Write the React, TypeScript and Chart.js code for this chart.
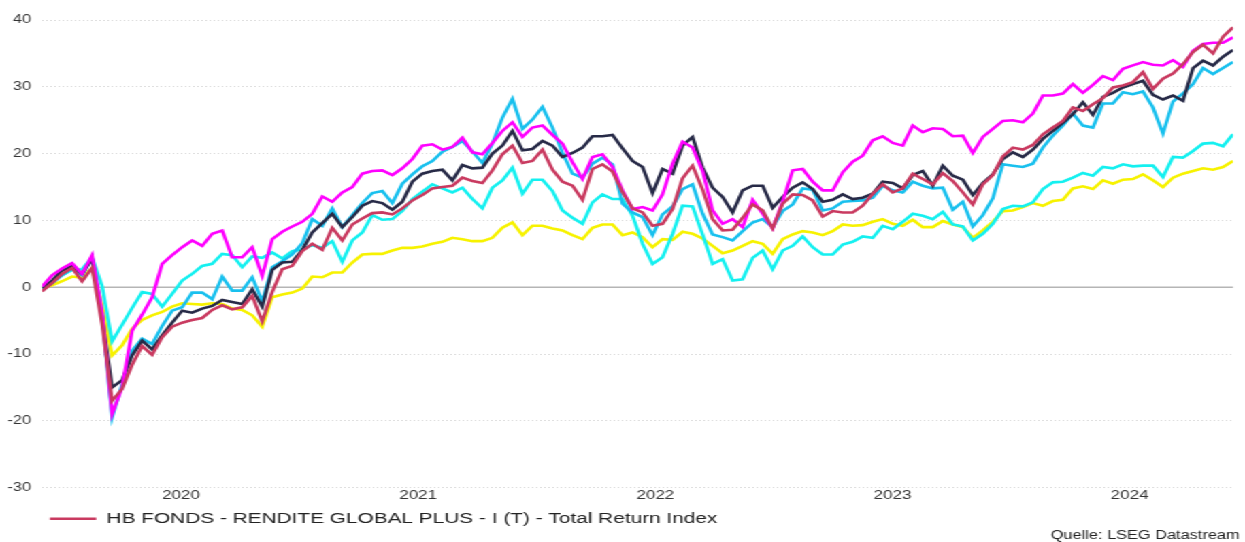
import { useEffect, useRef } from 'react';
import { Chart, registerables } from 'chart.js';

Chart.register(...registerables);

// ---- sampling of the time axis (about every 15 days, starting early Dec 2019)
const START_YEAR = 2019.914;
const STEP_YEARS = 0.0422;

// ---- tick labels
const yearLabels = ['2020', '2021', '2022', '2023', '2024'];
const yTickValues = [-30, -20, -10, 0, 10, 20, 30, 40];

const legendText = 'HB FONDS - RENDITE GLOBAL PLUS - I (T) - Total Return Index';
const sourceText = 'Quelle: LSEG Datastream';

// ---- series (performance in %)
const hbFonds = [
  -0.6, 0.6, 2.0, 2.9, 0.9, 2.9, -5.5, -17, -15.2, -11.6,
  -8.8, -10.1, -7.5, -5.9, -5.3, -4.9, -4.6, -3.4, -2.7, -3.3,
  -3.0, -1.3, -5.1, -0.7, 2.7, 3.2, 5.4, 6.5, 5.6, 8.9,
  7.0, 9.4, 10.3, 11.1, 11.2, 10.9, 11.8, 13.0, 13.8, 14.8,
  15.0, 15.2, 16.4, 15.9, 15.6, 17.5, 19.9, 21.2, 18.6, 18.9,
  20.6, 17.6, 15.8, 15.2, 13.1, 17.7, 18.4, 17.3, 14.2, 11.8,
  11.2, 9.2, 9.5, 11.7, 16.3, 18.2, 14.6, 10.2, 8.5, 8.6,
  10.4, 12.4, 11.5, 8.8, 12.5, 13.9, 13.8, 13.0, 10.6, 11.4,
  11.2, 11.2, 12.2, 14.0, 15.4, 14.2, 14.8, 17.0, 16.2, 15.4,
  17.1, 15.9, 14.2, 12.4, 15.4, 16.8, 19.6, 20.9, 20.6, 21.3,
  22.9, 23.9, 24.9, 26.9, 26.4, 27.4, 28.3, 29.9, 30.2, 30.7,
  32.2, 29.7, 31.2, 32.0, 33.4, 35.2, 36.3, 35.0, 37.5, 38.9,
];

const magentaSeries = [
  0.1, 1.8, 2.8, 3.6, 2.0, 4.8, -3.8, -19, -15, -6.5,
  -4.1, -1.5, 3.5, 4.8, 6, 7, 6.2, 8, 8.5, 4.5,
  4.5, 6.0, 1.7, 7.2, 8.3, 9.1, 9.8, 11, 13.6, 12.8,
  14.2, 15, 17, 17.4, 17.5, 16.8, 17.8, 19.2, 21.2, 21.4,
  20.6, 21, 22.4, 20.2, 19.9, 21.6, 23.4, 24.7, 22.5, 23.9,
  24.2, 22.8, 21.5, 18.7, 16.2, 19.5, 19.9, 18.0, 14.5, 11.7,
  12.0, 11.5, 13.9, 18.5, 21.8, 20.9, 17.4, 11.5, 9.5, 10.2,
  9, 13.1, 11, 8.8, 12.8, 17.5, 17.7, 15.8, 14.5, 14.5,
  17.2, 18.8, 19.7, 22.0, 22.6, 21.6, 21.2, 24.2, 23.2, 23.8,
  23.7, 22.6, 22.7, 20.1, 22.5, 23.7, 24.9, 25.0, 24.7, 26,
  28.7, 28.7, 29.0, 30.4, 29.1, 30.3, 31.6, 31.0, 32.7, 33.2,
  33.7, 33.3, 33.2, 34.0, 33.0, 35.4, 36.4, 36.6, 36.6, 37.4,
];

const navySeries = [
  -0.1, 1.0, 2.5, 3.2, 2.0, 4.3, -4.5, -15, -13.9, -10.2,
  -8.0, -9.3, -7.2, -5.3, -3.5, -3.8, -3.2, -2.8, -1.9, -2.2,
  -2.5, -0.3, -2.9, 2.6, 3.7, 3.8, 5.6, 8.2, 9.6, 11,
  9.0, 10.5, 12.2, 12.9, 12.6, 11.6, 12.8, 15.8, 17, 17.4,
  17.6, 16, 18.3, 17.8, 17.9, 20.0, 21.2, 23.4, 20.5, 20.7,
  21.9, 21.2, 19.5, 20.1, 20.9, 22.6, 22.6, 22.8, 20.8, 18.9,
  18, 14.1, 17.7, 17.0, 21.2, 22.5, 17.9, 14.9, 13.5, 11.2,
  14.5, 15.2, 15.2, 11.9, 13.5, 14.9, 15.7, 14.7, 12.8, 13.1,
  13.9, 13.2, 13.4, 14.0, 15.8, 15.6, 14.8, 16.8, 17.4, 15.2,
  18.2, 16.7, 16.1, 13.8, 15.6, 16.9, 19.2, 20.2, 19.5, 20.6,
  22.2, 23.4, 24.6, 25.9, 27.7, 25.8, 28.5, 29.1, 29.9, 30.4,
  30.9, 28.8, 28.1, 28.7, 27.9, 32.8, 33.9, 33.2, 34.5, 35.5,
];

const skySeries = [
  -0.1, 0.6, 1.8, 2.8, 1.8, 4.5, -4, -19.5, -14.5, -9.5,
  -7.7, -8.5, -5.8, -3.5, -3.0, -0.8, -0.8, -1.8, 1.6, -0.5,
  -0.5, 1.5, -2.1, 3.0, 3.9, 4.9, 6.6, 10.2, 9.2, 11.8,
  9.0, 10.8, 12.6, 14.1, 14.4, 12.6, 15.5, 16.9, 18.1, 18.9,
  20.3, 21.0, 21.9, 20.3, 18.6, 21.5, 25.4, 28.2, 23.7, 25.1,
  27.0, 23.9, 20.1, 17.0, 16.4, 18.5, 19.4, 18.4, 12.5, 11.2,
  10.5, 7.8, 10.9, 12.1, 14.7, 15.4, 11.0, 7.9, 7.5, 7.0,
  8.4, 9.7, 10.2, 9.0, 11.4, 12.4, 14.8, 14.6, 11.5, 11.8,
  12.8, 12.9, 13.0, 13.4, 15.2, 14.5, 14.2, 15.8, 15.2, 14.8,
  14.9, 11.6, 12.8, 9.1, 10.8, 13.3, 18.4, 18.2, 18.0, 18.5,
  20.9, 22.7, 24.2, 26.0, 24.2, 23.9, 27.5, 27.5, 29.2, 28.9,
  29.3, 26.9, 23.0, 27.8, 29.0, 30.4, 32.8, 31.9, 32.8, 33.7,
];

const cyanSeries = [
  -0.1, 0.8, 1.8, 2.6, 2.7, 4.5, 0.2, -8.1, -5.6, -3.1,
  -0.7, -1.0, -2.9, -1.0, 1.0, 2.0, 3.2, 3.5, 5.0, 4.8,
  3.0, 4.6, 4.4, 5.2, 4.3, 5.4, 5.7, 6.3, 5.9, 6.9,
  3.8, 7.0, 8.2, 10.8, 10.1, 10.2, 11.4, 13.2, 14.3, 15.4,
  14.8, 14.2, 14.9, 13.2, 11.8, 14.9, 16.0, 17.9, 14.0, 16.1,
  16.1, 14.4, 11.5, 10.4, 9.5, 12.7, 13.9, 13.2, 13.2, 10.7,
  6.5, 3.5, 4.5, 8.0, 12.2, 12.1, 7.9, 3.5, 4.2, 1.0,
  1.2, 4.4, 5.5, 2.7, 5.5, 6.2, 7.6, 6.0, 4.9, 4.9,
  6.4, 6.8, 7.6, 7.4, 9.2, 8.7, 9.8, 11.0, 10.7, 10.2,
  11.3, 9.4, 9.1, 7.0, 8.0, 9.5, 11.7, 12.2, 12.1, 12.7,
  14.7, 15.7, 15.8, 16.4, 17.1, 16.7, 18.0, 17.8, 18.4, 18.1,
  18.2, 18.2, 16.5, 19.5, 19.4, 20.4, 21.5, 21.6, 21.1, 22.9,
];

const yellowSeries = [
  -0.1, 0.3, 0.9, 1.6, 1.4, 2.9, -2.8, -10.2, -8.7, -6.2,
  -4.9, -4.2, -3.7, -2.9, -2.4, -2.5, -2.6, -2.4, -2.5, -3.2,
  -3.4, -4.2, -5.9, -1.5, -1.1, -0.8, -0.2, 1.6, 1.5, 2.2,
  2.2, 3.7, 4.9, 5.0, 5.0, 5.5, 5.9, 5.9, 6.1, 6.5,
  6.8, 7.4, 7.2, 6.9, 6.9, 7.4, 8.9, 9.7, 7.8, 9.2,
  9.2, 8.8, 8.5, 7.8, 7.2, 8.9, 9.4, 9.4, 7.8, 8.2,
  7.5, 6.0, 7.2, 7.1, 8.3, 8.0, 7.3, 6.2, 5.1, 5.5,
  6.2, 6.9, 6.5, 5.0, 7.2, 7.9, 8.4, 8.2, 7.8, 8.4,
  9.4, 9.2, 9.3, 9.8, 10.2, 9.5, 9.2, 10.1, 9.0, 9.0,
  9.9, 9.4, 9.0, 7.4, 8.5, 9.8, 11.4, 11.5, 12.0, 12.6,
  12.2, 12.9, 13.1, 14.8, 15.1, 14.7, 16.0, 15.5, 16.1, 16.2,
  16.9, 16.0, 15.0, 16.4, 17.0, 17.4, 17.8, 17.6, 18.0, 18.9,
];

const FONT = "'Liberation Sans', Arial, Helvetica, sans-serif";
const W = 915;
const H = 542;
const STRETCH_X = 1245 / W;

export default function App() {
  const canvasRef = useRef<HTMLCanvasElement | null>(null);

  useEffect(() => {
    document.body.style.margin = '0';
    const canvas = canvasRef.current;
    if (!canvas) return;

    const xs = hbFonds.map((_, i) => START_YEAR + i * STEP_YEARS);
    const mk = (label: string, data: number[], color: string) => ({
      label,
      data: data.map((v, i) => ({ x: xs[i], y: v })),
      borderColor: color,
      backgroundColor: color,
      borderWidth: 2.6,
      pointRadius: 0,
      pointHoverRadius: 0,
      tension: 0,
      fill: false,
    });

    const zeroLine = {
      id: 'zeroLine',
      beforeDatasetsDraw(chart: any) {
        const { ctx, chartArea } = chart;
        const y = chart.scales.y.getPixelForValue(0);
        ctx.save();
        ctx.strokeStyle = '#b5b5b5';
        ctx.lineWidth = 1.5;
        ctx.beginPath();
        ctx.moveTo(chartArea.left, y);
        ctx.lineTo(chartArea.right, y);
        ctx.stroke();
        ctx.restore();
      },
    };

    const legendShift = {
      id: 'legendShift',
      afterLayout(chart: any) {
        if (chart.legend) chart.legend.left += 22.3;
      },
    };

    const sourceNote = {
      id: 'sourceNote',
      afterDraw(chart: any) {
        const { ctx } = chart;
        ctx.save();
        ctx.font = `12px ${FONT}`;
        ctx.fillStyle = '#222';
        ctx.textAlign = 'right';
        ctx.textBaseline = 'middle';
        ctx.fillText(sourceText, chart.width - 4, 536);
        ctx.restore();
      },
    };

    const chart = new Chart(canvas, {
      type: 'line',
      data: {
        datasets: [
          mk(legendText, hbFonds, '#c93a60'),
          mk('Vergleich 1', magentaSeries, '#ff00ff'),
          mk('Vergleich 2', navySeries, '#272a47'),
          mk('Vergleich 3', skySeries, '#18c0ee'),
          mk('Vergleich 4', cyanSeries, '#14f0f0'),
          mk('Vergleich 5', yellowSeries, '#f7f200'),
        ],
      },
      options: {
        responsive: false,
        animation: false,
        devicePixelRatio: 1,
        events: [],
        layout: { padding: { top: 20, left: 5.9, right: 8.8, bottom: 5.5 } },
        scales: {
          x: {
            type: 'linear',
            min: xs[0],
            max: xs[xs.length - 1],
            grid: { display: false, drawTicks: false },
            border: { display: false },
            afterBuildTicks: (scale: any) => {
              scale.ticks = yearLabels.map((y) => ({ value: Number(y) + 0.5 }));
            },
            ticks: {
              autoSkip: false,
              maxRotation: 0,
              padding: 0,
              color: '#333',
              font: { family: FONT, size: 12.5 },
              callback: (_v: any, i: number) => yearLabels[i],
            },
          },
          y: {
            min: -30,
            max: 40,
            afterBuildTicks: (scale: any) => {
              scale.ticks = yTickValues.map((v) => ({ value: v }));
            },
            afterFit: (scale: any) => {
              scale.width = 25;
            },
            grid: {
              drawTicks: false,
              lineWidth: 1,
              color: (c: any) => (c.tick && c.tick.value === 0 ? 'rgba(0,0,0,0)' : '#d6d6d6'),
            },
            border: { display: false, dash: [1, 2] },
            ticks: {
              padding: 8,
              color: '#333',
              font: { family: FONT, size: 12 },
              callback: (v: any) => String(v),
            },
          },
        },
        plugins: {
          legend: {
            display: true,
            position: 'bottom',
            align: 'start',
            labels: {
              boxWidth: 34,
              boxHeight: 2.5,
              padding: 8.5,
              color: '#222',
              font: { family: FONT, size: 15.3 },
              generateLabels: (ch: any) =>
                Chart.defaults.plugins.legend.labels
                  .generateLabels(ch)
                  .map((l: any) => ({ ...l, lineWidth: 0 })),
              filter: (item: any) => item.datasetIndex === 0,
            },
          },
          tooltip: { enabled: false },
        },
      } as any,
      plugins: [zeroLine, legendShift, sourceNote],
    });

    return () => chart.destroy();
  }, []);

  return (
    <div
      style={{
        position: 'absolute',
        left: 0,
        top: 0,
        width: W,
        height: H,
        transform: `scaleX(${STRETCH_X})`,
        transformOrigin: '0 0',
        background: '#fff',
      }}
    >
      <canvas ref={canvasRef} width={W} height={H} style={{ display: 'block' }} />
    </div>
  );
}
